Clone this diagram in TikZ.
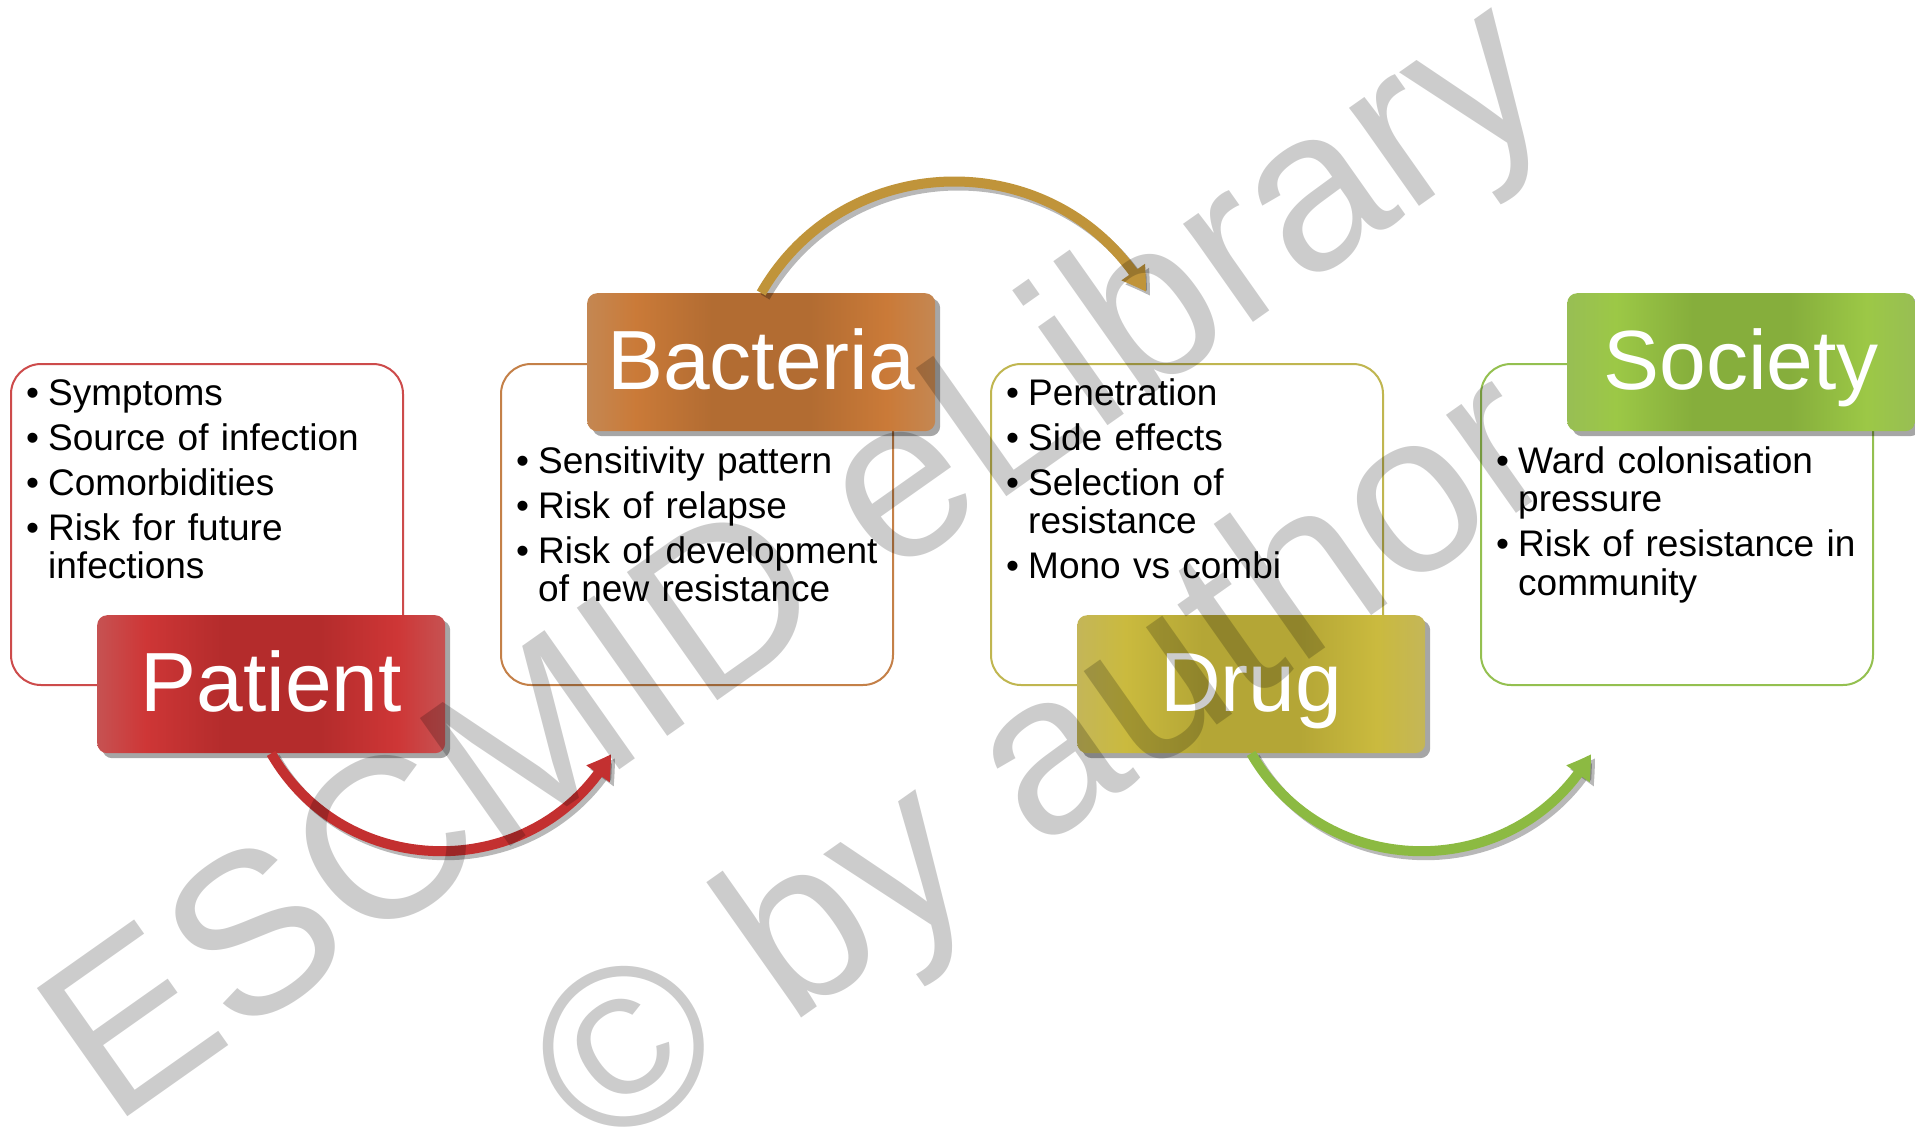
\documentclass[tikz,border=0pt]{standalone}
\usepackage{fontspec}
\setmainfont{Liberation Sans}
\usetikzlibrary{arrows.meta,bending,shadows,calc}

% tag fills
\definecolor{pA}{RGB}{198,82,82}
\definecolor{pB}{RGB}{206,54,54}
\definecolor{pC}{RGB}{180,44,44}
\definecolor{bA}{RGB}{196,135,82}
\definecolor{bB}{RGB}{202,122,56}
\definecolor{bC}{RGB}{178,108,50}
\definecolor{dA}{RGB}{196,182,88}
\definecolor{dB}{RGB}{202,186,62}
\definecolor{dC}{RGB}{180,166,54}
\definecolor{sA}{RGB}{152,190,84}
\definecolor{sB}{RGB}{156,200,70}
\definecolor{sC}{RGB}{134,174,60}
% frame lines
\definecolor{pL}{RGB}{205,75,75}
\definecolor{bL}{RGB}{196,128,72}
\definecolor{dL}{RGB}{192,182,80}
\definecolor{sL}{RGB}{148,192,80}
% arrows
\definecolor{pArr}{RGB}{195,48,48}
\definecolor{bArr}{RGB}{192,148,58}
\definecolor{sArr}{RGB}{140,186,66}

\pgfdeclarehorizontalshading{redtag}{100bp}{color(0bp)=(pA); color(25bp)=(pA); color(32bp)=(pB); color(43bp)=(pC); color(57bp)=(pC); color(68bp)=(pB); color(75bp)=(pA); color(100bp)=(pA)}
\pgfdeclarehorizontalshading{orangetag}{100bp}{color(0bp)=(bA); color(25bp)=(bA); color(32bp)=(bB); color(43bp)=(bC); color(57bp)=(bC); color(68bp)=(bB); color(75bp)=(bA); color(100bp)=(bA)}
\pgfdeclarehorizontalshading{olivetag}{100bp}{color(0bp)=(dA); color(25bp)=(dA); color(32bp)=(dB); color(43bp)=(dC); color(57bp)=(dC); color(68bp)=(dB); color(75bp)=(dA); color(100bp)=(dA)}
\pgfdeclarehorizontalshading{greentag}{100bp}{color(0bp)=(sA); color(25bp)=(sA); color(32bp)=(sB); color(43bp)=(sC); color(57bp)=(sC); color(68bp)=(sB); color(75bp)=(sA); color(100bp)=(sA)}

% one bullet point with hanging indent
\newcommand\bul[1]{\noindent\hangindent=22pt\hangafter=1\makebox[22pt][l]{\textbullet}#1\par}
\newcommand\nx{\vskip6.5pt}

\begin{document}
\begin{tikzpicture}[x=1pt,y=-1pt,
  infobox/.style={draw, line width=2pt, rounded corners=30pt, fill=white,
    minimum width=392pt, minimum height=321pt, anchor=north west, inner sep=0pt},
  listtext/.style={anchor=base west, inner sep=0pt, text width=400pt,
    font=\fontsize{37}{38.5}\selectfont},
  tag/.style={rounded corners=10pt, anchor=north west, inner sep=0pt,
    minimum width=348pt, minimum height=138pt, text=white,
    text height=54pt, text depth=0pt,
    font=\fontsize{84}{84}\selectfont,
    drop shadow={shadow xshift=5pt, shadow yshift=-5pt, fill=black, opacity=0.35}},
  arr/.style={line width=10pt, -{Triangle[length=24pt,width=27pt,bend]}},
  arrsh/.style={arr, draw=black, opacity=0.28},
  wm/.style={anchor=base west, inner sep=0pt, text=black, text opacity=0.2,
    font=\fontsize{228}{228}\selectfont, rotate=35.2}
]
\useasboundingbox (0,0) rectangle (1915,1130);
\fill[white] (0,0) rectangle (1915,1130);

% text frames
\node[infobox, draw=pL] (pbox) at (10,363) {};
\node[infobox, draw=bL] (bbox) at (500,363) {};
\node[infobox, draw=dL] (dbox) at (990,363) {};
\node[infobox, draw=sL] (sbox) at (1480,363) {};

% bullet lists
\node[listtext] (ptext) at (26,405) {\bul{Symptoms}\nx\bul{Source of infection}\nx\bul{Comorbidities}\nx\bul{Risk for future\newline infections}};
\node[listtext] (btext) at (516,473) {\bul{Sensitivity pattern}\nx\bul{Risk of relapse}\nx\bul{Risk of development\newline of new resistance}};
\node[listtext] (dtext) at (1006,405) {\bul{Penetration}\nx\bul{Side effects}\nx\bul{Selection of\newline resistance}\nx\bul{Mono vs combi}};
\node[listtext] (stext) at (1496,473) {\bul{Ward colonisation\newline pressure}\nx\bul{Risk of resistance in\newline community}};

% title tags
\node[tag, shading=redtag] (ptag) at (97,615) {Patient};
\node[tag, shading=orangetag] (btag) at (587,293) {Bacteria};
\node[tag, shading=olivetag] (dtag) at (1077,615) {Drug};
\node[tag, shading=greentag] (stag) at (1567,293) {Society};

% arrow ends
\coordinate (rend) at (611,754);
\coordinate (gend) at (1146,292);
\coordinate (lend) at (1591,754);

% arrow shadows
\draw[arrsh] ([shift={(4,4)}]ptag.south) .. controls +(75,130) and +(-75,130) .. ([shift={(4,4)}]rend);
\draw[arrsh] ([shift={(4,4)}]btag.north) .. controls +(85,-148) and +(-85,-148) .. ([shift={(4,4)}]gend);
\draw[arrsh] ([shift={(4,4)}]dtag.south) .. controls +(75,130) and +(-75,130) .. ([shift={(4,4)}]lend);

% arrows
\draw[arr, pArr] (ptag.south) .. controls +(75,130) and +(-75,130) .. (rend);
\draw[arr, bArr] (btag.north) .. controls +(85,-148) and +(-85,-148) .. (gend);
\draw[arr, sArr] (dtag.south) .. controls +(75,130) and +(-75,130) .. (lend);

% watermark
\node[wm] (wmA) at (112,1128) {ESCMID eLibrary};
\node[wm] (wmB) at (600,1160) {© by author};
\end{tikzpicture}
\end{document}
